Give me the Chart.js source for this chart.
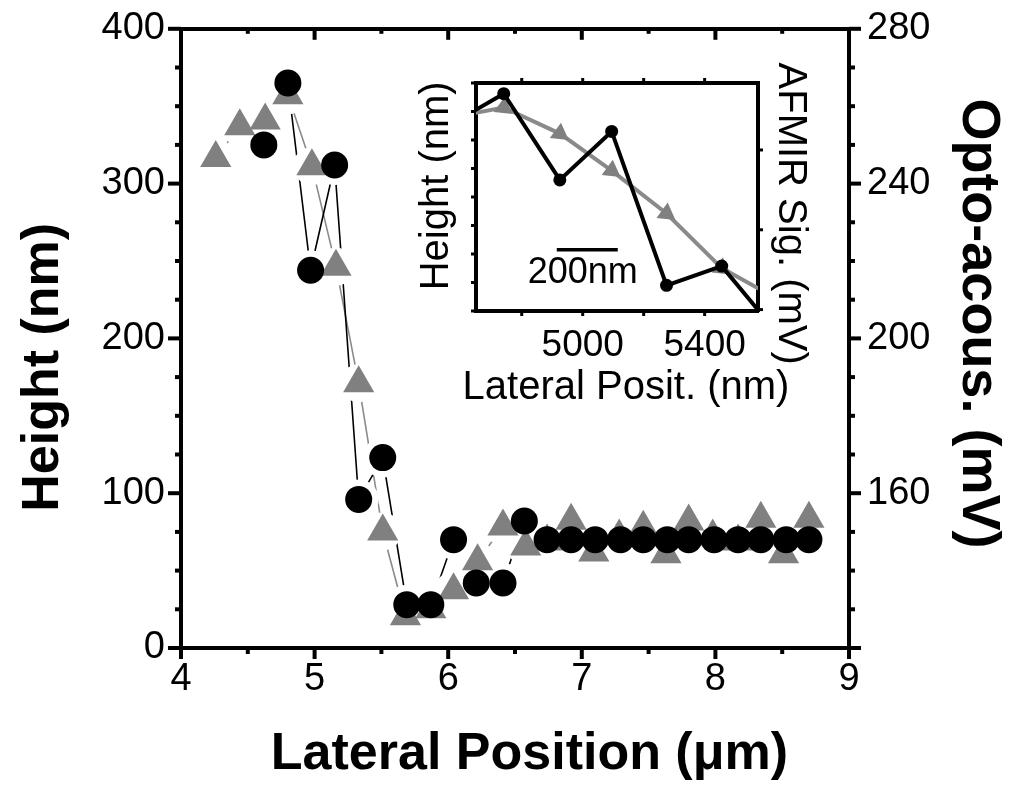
<!DOCTYPE html>
<html>
<head>
<meta charset="utf-8">
<script src="https://cdn.jsdelivr.net/npm/chart.js@4.4.0/dist/chart.umd.min.js"></script>
<style>
  html, body { margin: 0; padding: 0; background: #fff; }
  #wrap { position: relative; width: 1010px; height: 801px; overflow: hidden; }
  #main { position: absolute; left: 0; top: 0; width: 1010px; height: 801px; }
  #inset { position: absolute; left: 405px; top: 40px; width: 415px; height: 380px; }
</style>
</head>
<body>
<div id="wrap">
  <canvas id="main" width="1010" height="801"></canvas>
  <canvas id="inset" width="415" height="380"></canvas>
</div>
<script>
// ---------------- data (main plot) ----------------
const heightX = [4.62, 4.80, 4.97, 5.15, 5.33, 5.51, 5.69, 5.87, 6.04, 6.21, 6.41, 6.57,
                 6.74, 6.92, 7.10, 7.29, 7.46, 7.64, 7.80, 7.99, 8.17, 8.34, 8.53, 8.70];
const heightNm = [325, 365, 244, 312, 96, 123, 28, 28, 70, 42, 42, 82,
                  70, 70, 70, 70, 70, 70, 70, 70, 70, 70, 70, 70];
const signalX = [4.26, 4.44, 4.63, 4.80, 4.98, 5.16, 5.33, 5.51, 5.68, 5.87, 6.04, 6.22, 6.41,
                 6.58, 6.74, 6.92, 7.09, 7.28, 7.46, 7.63, 7.80, 7.98, 8.17, 8.34, 8.51, 8.70];
const signalMv = [246.6, 254.8, 256.3, 262.8, 244.5, 218.5, 188.4, 150.1, 128.2, 130.0, 134.9, 142.4, 151.4,
                  146.2, 147.5, 152.9, 144.7, 148.8, 151.1, 144.2, 152.7, 148.8, 147.5, 153.4, 144.2, 153.4];

// tick values (main)
const xMajorTicks = [4, 5, 6, 7, 8, 9];
const xMinorTicks = [4.5, 5.5, 6.5, 7.5, 8.5];
const yMajorTicks = [0, 100, 200, 300, 400];
const yMinorTicks = [25, 50, 75, 125, 150, 175, 225, 250, 275, 325, 350, 375];
const y2MajorTicks = [120, 160, 200, 240, 280];
const y2MinorTicks = [130, 140, 150, 170, 180, 190, 210, 220, 230, 250, 260, 270];
const y2LabelTicks = [160, 200, 240, 280];

// ---------------- data (inset) ----------------
const insetX = [4580, 4741, 4925, 5095, 5275, 5456, 5640];
const insetHeight = [325, 365, 244, 312, 96, 123, 28];
const insetSignal = [256.3, 262.8, 244.5, 218.5, 188.4, 150.1, 128.2];
const insetXLabelTicks = [5000, 5400];
const insetXTicks = [4800, 5000, 5200, 5400];
const insetYTicks = [60, 100, 140, 180, 220, 260, 300, 340, 380];
const insetY2Ticks = [121, 177, 233];
const scaleBarX = [4915, 5115];
const scaleBarY = 146;
const scaleBarText = '200nm';
const scaleBarTextAt = { x: 5000, y: 113 };
const insetXTitle = 'Lateral Posit. (nm)';

const FONT = "'Liberation Sans', Arial, Helvetica, sans-serif";
Chart.defaults.font.family = FONT;
Chart.defaults.color = '#000';

const pts = (xs, ys) => xs.map((x, i) => ({ x: x, y: ys[i] }));

// draws axis tick marks (major/minor) through the chart's own scales
const tickPlugin = {
  id: 'axisTicks',
  afterDraw(chart, args, opts) {
    const ctx = chart.ctx, a = chart.chartArea;
    ctx.save();
    ctx.strokeStyle = '#000';
    ctx.lineCap = 'butt';
    (opts.sets || []).forEach(s => {
      const sc = chart.scales[s.scale];
      ctx.lineWidth = s.width;
      s.values.forEach(v => {
        const p = sc.getPixelForValue(v);
        ctx.beginPath();
        if (s.side === 'bottom') { ctx.moveTo(p, a.bottom); ctx.lineTo(p, a.bottom + s.dir * s.len); }
        if (s.side === 'top') { ctx.moveTo(p, a.top); ctx.lineTo(p, a.top - s.dir * s.len); }
        if (s.side === 'left') { ctx.moveTo(a.left, p); ctx.lineTo(a.left - s.dir * s.len, p); }
        if (s.side === 'right') { ctx.moveTo(a.right, p); ctx.lineTo(a.right + s.dir * s.len, p); }
        ctx.stroke();
      });
    });
    ctx.restore();
  }
};

// inset texts: scale-bar label (data coords) and the x-axis title (not width-squeezed)
const insetTextPlugin = {
  id: 'insetText',
  afterDraw(chart, args, opts) {
    const ctx = chart.ctx;
    ctx.save();
    ctx.fillStyle = '#000';
    ctx.textAlign = 'center';
    ctx.textBaseline = 'middle';
    if (opts.barText) {
      const x = chart.scales.x.getPixelForValue(opts.barAt.x);
      const y = chart.scales.y.getPixelForValue(opts.barAt.y);
      ctx.font = opts.barSize + 'px ' + FONT;
      ctx.fillText(opts.barText, x, y);
    }
    if (opts.xTitle) {
      const a = chart.chartArea;
      ctx.font = opts.xTitleSize + 'px ' + FONT;
      ctx.fillText(opts.xTitle, (a.left + a.right) / 2 + opts.xTitleShift, chart.height - opts.xTitleBottom);
    }
    ctx.restore();
  }
};

const noGrid = (len) => ({ display: true, drawOnChartArea: false, drawTicks: true, tickLength: len, color: 'rgba(0,0,0,0)' });
const border = { display: true, color: '#000', width: 4 };

// ---------------- main chart ----------------
new Chart(document.getElementById('main'), {
  type: 'scatter',
  data: {
    datasets: [
      { data: pts(signalX, signalMv), yAxisID: 'y2', showLine: true, borderColor: '#8a8a8a', borderWidth: 1.6,
        pointRadius: 0, pointHoverRadius: 0, order: 10 },
      { data: pts(heightX, heightNm), yAxisID: 'y', showLine: true, borderColor: '#000', borderWidth: 1.6,
        pointRadius: 0, pointHoverRadius: 0, order: 9 },
      { data: pts(signalX, signalMv), yAxisID: 'y2', showLine: false, pointStyle: 'circle', pointRadius: 19,
        pointBackgroundColor: '#fff', pointBorderWidth: 0, order: 6 },
      { data: pts(heightX, heightNm), yAxisID: 'y', showLine: false, pointStyle: 'circle', pointRadius: 20,
        pointBackgroundColor: '#fff', pointBorderWidth: 0, order: 5 },
      { data: pts(signalX, signalMv), yAxisID: 'y2', showLine: false, pointStyle: 'triangle', pointRadius: 18,
        pointBackgroundColor: '#808080', pointBorderWidth: 0, order: 2 },
      { data: pts(heightX, heightNm), yAxisID: 'y', showLine: false, pointStyle: 'circle', pointRadius: 13.5,
        pointBackgroundColor: '#000', pointBorderWidth: 0, order: 1 }
    ]
  },
  options: {
    responsive: false, animation: false, devicePixelRatio: 1,
    layout: { padding: 0 },
    plugins: {
      legend: { display: false }, tooltip: { enabled: false },
      axisTicks: { sets: [
        { scale: 'x', side: 'bottom', values: xMajorTicks, len: 11, dir: 1, width: 4 },
        { scale: 'x', side: 'bottom', values: xMinorTicks, len: 6, dir: 1, width: 4 },
        { scale: 'x', side: 'top', values: xMajorTicks.slice(1, -1), len: 11, dir: -1, width: 4 },
        { scale: 'x', side: 'top', values: xMinorTicks, len: 5, dir: -1, width: 4 },
        { scale: 'y', side: 'left', values: yMajorTicks, len: 13, dir: 1, width: 4 },
        { scale: 'y', side: 'left', values: yMinorTicks, len: 6, dir: 1, width: 4 },
        { scale: 'y2', side: 'right', values: y2MajorTicks, len: 12, dir: 1, width: 4 },
        { scale: 'y2', side: 'right', values: y2MinorTicks, len: 6, dir: 1, width: 4 }
      ] }
    },
    scales: {
      x: {
        type: 'linear', position: 'bottom', min: 4, max: 9,
        afterBuildTicks: s => { s.ticks = xMajorTicks.map(v => ({ value: v })); },
        ticks: { font: { size: 38 }, padding: 2, autoSkip: false, maxRotation: 0, color: '#000',
                 callback: v => String(v) },
        grid: noGrid(7), border: border,
        title: { display: true, text: '  Lateral Position (\u03bcm)', color: '#000',
                 font: { size: 52, weight: 'bold' }, padding: { top: 0, bottom: 15 } },
        afterFit: s => { s.height = 153; }
      },
      xTop: {
        type: 'linear', position: 'top', min: 4, max: 9,
        ticks: { display: false }, grid: noGrid(0), border: border,
        afterFit: s => { s.height = 26; }
      },
      y: {
        type: 'linear', position: 'left', min: 0, max: 400,
        afterBuildTicks: s => { s.ticks = yMajorTicks.map(v => ({ value: v })); },
        ticks: { font: { size: 38 }, padding: 3, autoSkip: false, color: '#000', callback: v => String(v) },
        grid: noGrid(13), border: border,
        title: { display: true, text: 'Height (nm)    ', color: '#000',
                 font: { size: 52, weight: 'bold' }, padding: { top: 12, bottom: 0 } },
        afterFit: s => { s.width = 181; }
      },
      y2: {
        type: 'linear', position: 'right', min: 120, max: 280,
        afterBuildTicks: s => { s.ticks = y2LabelTicks.map(v => ({ value: v })); },
        ticks: { font: { size: 38 }, padding: 6, autoSkip: false, color: '#000', callback: v => String(v) },
        grid: noGrid(12), border: border,
        title: { display: true, text: 'Opto-acous. (mV)  ', color: '#000',
                 font: { size: 54, weight: 'bold' }, padding: { top: 0, bottom: 0 } },
        afterFit: s => { s.width = 161; }
      }
    }
  },
  plugins: [tickPlugin]
});

// ---------------- inset chart ----------------
new Chart(document.getElementById('inset'), {
  type: 'scatter',
  data: {
    datasets: [
      { data: pts(insetX, insetSignal), yAxisID: 'y2', showLine: true, borderColor: '#8a8a8a', borderWidth: 4,
        pointStyle: 'triangle', pointRotation: 126, pointRadius: 11, pointHoverRadius: 11,
        pointBackgroundColor: '#808080', pointBorderWidth: 0, order: 3 },
      { data: pts(insetX, insetHeight), yAxisID: 'y', showLine: true, borderColor: '#000', borderWidth: 4,
        pointStyle: 'circle', pointRadius: 6.5, pointHoverRadius: 6.5,
        pointBackgroundColor: '#000', pointBorderWidth: 0, order: 2 },
      { data: scaleBarX.map(x => ({ x: x, y: scaleBarY })), yAxisID: 'y', showLine: true,
        borderColor: '#000', borderWidth: 3.5, pointRadius: 0, pointHoverRadius: 0, order: 1 }
    ]
  },
  options: {
    responsive: false, animation: false, devicePixelRatio: 1,
    layout: { padding: 0 },
    plugins: {
      legend: { display: false }, tooltip: { enabled: false },
      insetText: { barText: scaleBarText, barAt: scaleBarTextAt, barSize: 36,
                   xTitle: insetXTitle, xTitleSize: 40, xTitleShift: 9, xTitleBottom: 32 },
      axisTicks: { sets: [
        { scale: 'x', side: 'bottom', values: insetXTicks, len: 5, dir: 1, width: 3 },
        { scale: 'x', side: 'top', values: insetXTicks, len: 5, dir: 1, width: 3 },
        { scale: 'y', side: 'left', values: insetYTicks, len: 5, dir: 1, width: 3 },
        { scale: 'y2', side: 'right', values: insetY2Ticks, len: 5, dir: 1, width: 3 }
      ] }
    },
    scales: {
      x: {
        type: 'linear', position: 'bottom', min: 4650, max: 5575,
        afterBuildTicks: s => { s.ticks = insetXLabelTicks.map(v => ({ value: v })); },
        ticks: { font: { size: 37 }, padding: 7, autoSkip: false, maxRotation: 0, color: '#000',
                 callback: v => String(v) },
        grid: noGrid(6), border: border,
        title: { display: false },
        afterFit: s => { s.height = 109; }
      },
      xTop: {
        type: 'linear', position: 'top', min: 4650, max: 5575,
        ticks: { display: false }, grid: noGrid(0), border: border,
        afterFit: s => { s.height = 43; }
      },
      y: {
        type: 'linear', position: 'left', min: 60, max: 380,
        ticks: { display: false }, grid: noGrid(0), border: border,
        title: { display: true, text: '  Height (nm)', color: '#000',
                 font: { size: 40 }, padding: { top: 8, bottom: 0 } },
        afterFit: s => { s.width = 71; }
      },
      y2: {
        type: 'linear', position: 'right', min: 120, max: 280,
        ticks: { display: false }, grid: noGrid(0), border: border,
        title: { display: true, text: '   AFMIR Sig. (mV)', color: '#000',
                 font: { size: 40 }, padding: { top: 6, bottom: 0 } },
        afterFit: s => { s.width = 62; }
      }
    }
  },
  plugins: [tickPlugin, insetTextPlugin]
});
</script>
</body>
</html>
